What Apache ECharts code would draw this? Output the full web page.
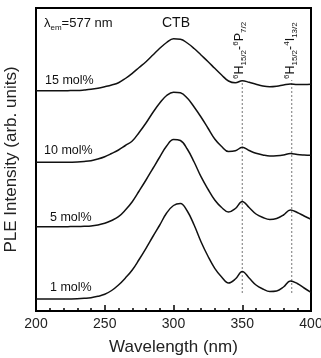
<!DOCTYPE html>
<html>
<head>
<meta charset="utf-8">
<script src="https://cdn.jsdelivr.net/npm/echarts@6/dist/echarts.min.js"></script>
<style>
  html, body { margin: 0; padding: 0; background: #fff; }
  #chart { width: 321px; height: 358px; }
</style>
</head>
<body>
<div id="chart"></div>
<script>
// wavelengths (nm), every 5 nm from 200 to 400
const wavelengths = [200, 205, 210, 215, 220, 225, 230, 235, 240, 245, 250, 255, 260, 265, 270, 275,
  280, 285, 290, 295, 300, 305, 310, 315, 320, 325, 330, 335, 340, 345, 350, 355, 360, 365, 370, 375,
  380, 385, 390, 395, 400];

// PLE intensity, arb. units, curves already stacked with their offsets
const mol15 = [220.3, 220.3, 220.3, 220.3, 220.3, 220.4, 220.5, 221, 221.7, 222.8, 224.3, 226, 228.3, 232.5,
  237.7, 243.5, 249.3, 256, 262.7, 268.5, 272.2, 271.8, 268, 262.5, 256, 249.5, 242.7, 236, 230, 228.2,
  230.3, 228.7, 226.7, 225, 224.3, 224.8, 226, 227, 226.5, 226.5, 226.7];
const mol10 = [148.7, 148.7, 148.7, 148.7, 148.7, 148.8, 149, 149.5, 150.3, 152, 154.3, 157.5, 161, 165.5,
  170, 178.5, 188, 198.5, 208, 215.5, 218.8, 218.2, 213, 204, 194, 183, 172, 164.5, 159.5, 160.2,
  163.7, 160.5, 157.7, 156, 155, 155.2, 156, 157.5, 156.5, 156, 155.7];
const mol5 = [84.3, 84.3, 84.3, 84.3, 84.3, 84.4, 84.5, 84.7, 85, 86, 87.7, 90.5, 94.3, 101,
  109.3, 120, 131, 142.5, 154, 165, 171.5, 170.5, 162, 149, 134.3, 122, 111, 103.5, 99, 102.5,
  109.5, 103.5, 97, 93.5, 91.5, 92.5, 96, 101, 98.5, 95, 91.7];
const mol1 = [12, 12, 12, 12, 12, 12.1, 12.3, 12.7, 13.3, 14.7, 16.7, 20.5, 26, 33,
  41, 51.5, 62.7, 74.5, 86, 98, 105.5, 107.5, 100, 86, 69.3, 55, 42.7, 34, 28, 32,
  39.5, 33, 26, 22, 19.5, 20, 24, 30, 27.5, 23, 18.7];

const seriesNames = ["15 mol%", "10 mol%", "5 mol%", "1 mol%"];
const seriesValues = [mol15, mol10, mol5, mol1];

// Dy3+ transitions marked by dotted lines
const transitions = [350, 386];
const transitionSpan = [18, 231];

const xTicks = [200, 250, 300, 350, 400];

const chart = echarts.init(document.getElementById("chart"));
const font = "'Liberation Sans', Arial, sans-serif";

const curves = seriesValues.map((vals, i) => ({
  name: seriesNames[i],
  type: "line",
  data: wavelengths.map((w, k) => [w, vals[k]]),
  smooth: 0.4,
  symbol: "none",
  lineStyle: { color: "#111", width: 1.5 },
  z: 3
}));

const dotted = transitions.map((w) => ({
  type: "line",
  data: transitionSpan.map((v) => [w, v]),
  symbol: "none",
  lineStyle: { color: "#777", width: 1, type: [2, 2] },
  z: 2
}));

const labelStyle = { fill: "#111", font: "12.5px " + font };

const subSup = {
  n: { fontSize: 12.5, fontFamily: font, fill: "#111" },
  sup: { fontSize: 8, fontFamily: font, verticalAlign: "top", lineHeight: 16 },
  sub: { fontSize: 8, fontFamily: font, verticalAlign: "bottom", lineHeight: 16 }
};

function transLabel(x, text) {
  return {
    type: "text",
    x: x,
    y: 79,
    z: 10,
    rotation: Math.PI / 2,
    style: {
      text: text,
      rich: subSup,
      fill: "#111",
      align: "left",
      verticalAlign: "middle"
    }
  };
}

chart.setOption({
  animation: false,
  backgroundColor: "#fff",
  grid: {
    left: 36, right: 10, top: 8, bottom: 47,
    outerBoundsMode: "none",
    show: true, borderColor: "#000", borderWidth: 2, backgroundColor: "transparent"
  },
  xAxis: {
    type: "value",
    min: 200,
    max: 400,
    interval: 50,
    name: "Wavelength (nm)",
    nameLocation: "middle",
    nameGap: 28,
    nameTextStyle: { color: "#222", fontSize: 17, fontFamily: font },
    axisLine: { show: true, lineStyle: { color: "#000", width: 2 } },
    axisTick: { show: true, inside: true, length: 6, lineStyle: { color: "#000", width: 1.5 } },
    minorTick: { show: true, splitNumber: 5, length: 3, lineStyle: { color: "#000", width: 1.5 } },
    splitLine: { show: false },
    axisLabel: {
      color: "#222", fontSize: 14, fontFamily: font, margin: 6,
      formatter: (v) => (xTicks.includes(v) ? String(v) : "")
    }
  },
  yAxis: {
    type: "value",
    min: 0,
    max: 303,
    name: "PLE Intensity (arb. units)",
    nameLocation: "middle",
    nameGap: 16,
    nameTextStyle: { color: "#222", fontSize: 17, fontFamily: font },
    axisLine: { show: true, lineStyle: { color: "#000", width: 2 } },
    axisTick: { show: false },
    axisLabel: { show: false },
    splitLine: { show: false }
  },
  series: curves.concat(dotted),
  graphic: [
    {
      type: "text", x: 44, y: 15,
      style: {
        text: "{n|λ}{sub|em}{n|=577 nm}",
        rich: {
          n: { fontSize: 13, fontFamily: font, fill: "#111", lineHeight: 17 },
          sub: { fontSize: 8, fontFamily: font, fill: "#111", verticalAlign: "bottom", lineHeight: 17 }
        }
      }
    },
    { type: "text", x: 176, y: 16, style: Object.assign({ text: "CTB", align: "center" }, labelStyle, { font: "14px " + font }) },
    { type: "text", x: 45, y: 74, style: Object.assign({ text: seriesNames[0] }, labelStyle) },
    { type: "text", x: 44, y: 144, style: Object.assign({ text: seriesNames[1] }, labelStyle) },
    { type: "text", x: 50, y: 211, style: Object.assign({ text: seriesNames[2] }, labelStyle) },
    { type: "text", x: 50, y: 281, style: Object.assign({ text: seriesNames[3] }, labelStyle) },
    transLabel(240, "{sup|6}{n|H}{sub|15/2}{n|-}{sup|6}{n|P}{sub|7/2}"),
    transLabel(291, "{sup|6}{n|H}{sub|15/2}{n|-}{sup|4}{n|I}{sub|13/2}")
  ]
});
</script>
</body>
</html>
